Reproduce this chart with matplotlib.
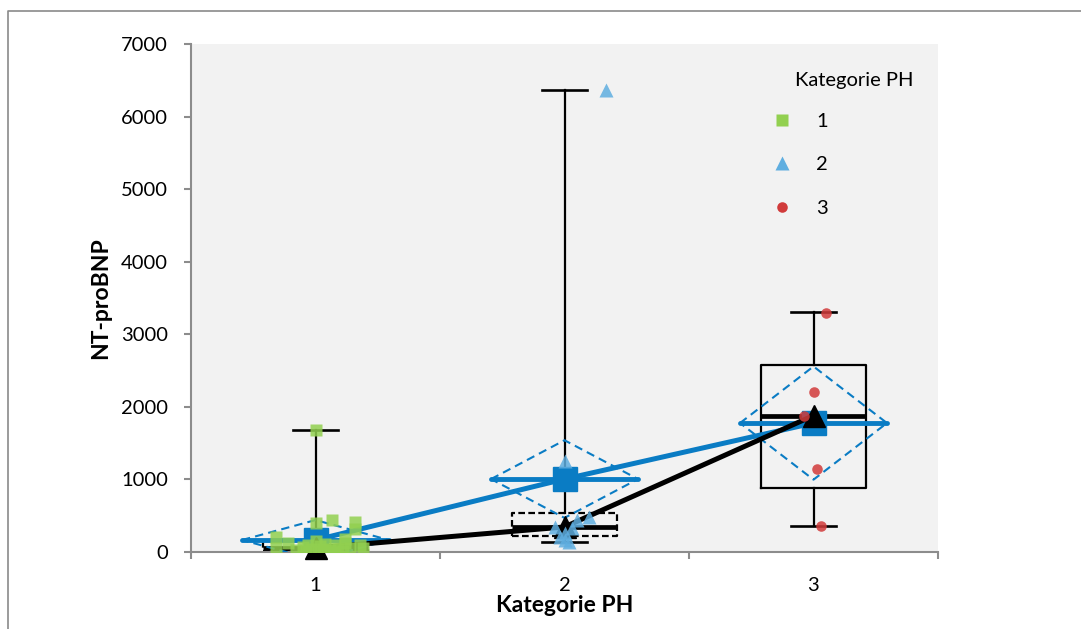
import matplotlib.pyplot as plt
from matplotlib.lines import Line2D

plt.rcParams.update({
    'font.family': ['Lato', 'DejaVu Sans'],
    'font.size': 14.5,
})

W, H = 1081, 629

# --- data: NT-proBNP per PH category ---
categories = [1, 2, 3]
labels = ['1', '2', '3']

vals_1 = [1680, 440, 420, 400, 320, 210, 180, 150, 130, 125, 110, 100, 95, 90,
          80, 70, 60, 55, 50, 45, 40, 35, 30, 25, 20, 15, 10, 5]
vals_2 = [6360, 1250, 480, 440, 350, 330, 260, 200, 160, 140]
vals_3 = [3300, 2200, 1880, 1140, 360]

# horizontal jitter of the points (category units)
jit_1 = [0.0, 0.065, 0.16, 0.004, 0.16, -0.16, 0.12, 0.0, -0.11, 0.12, 0.04, 0.18,
         -0.03, 0.08, 0.02, -0.05, 0.14, 0.19, -0.16, 0.03, 0.09, -0.02, 0.06,
         -0.08, 0.01, 0.11, -0.04, 0.07]
jit_2 = [0.165, 0.0, 0.1, 0.05, -0.04, 0.03, 0.0, -0.02, 0.0, 0.02]
jit_3 = [0.05, 0.0, -0.04, 0.015, 0.03]

# summary statistics
means = [165, 1005, 1777]
medians = [55, 345, 1880]
ci_half = [275, 535, 780]
q1 = [20, 220, 880]
q3 = [150, 537, 2576]
whis_lo = [5, 138, 358]
whis_hi = [1680, 6370, 3306]
box_dashed = [True, True, False]

BLUE = '#0A7CC4'
GRAY = '#8C8C8C'
pt_colors = ['#92D050', '#5FAEE0', '#D13B3B']
pt_markers = ['s', '^', 'o']
pt_sizes = [8.6, 9.4, 7.6]

fig = plt.figure(figsize=(W / 100, H / 100), dpi=100)
ax = fig.add_axes([191 / W, 1 - 552 / H, (938 - 191) / W, (552 - 44) / H])
ax.set_facecolor('#F2F2F2')
ax.set_xlim(0.5, 3.5)
ax.set_ylim(0, 7000)

# box plots
bw, cw = 0.21, 0.092
for c, a, b, lo, hi, md, dsh in zip(categories, q1, q3, whis_lo, whis_hi, medians, box_dashed):
    ls = (0, (3, 1.5)) if dsh else '-'
    ax.plot([c - bw, c + bw, c + bw, c - bw, c - bw], [a, a, b, b, a], color='black', lw=1.6, ls=ls, zorder=2)
    ax.plot([c, c], [b, hi], color='black', lw=1.6, zorder=2)
    ax.plot([c, c], [lo, a], color='black', lw=1.6, zorder=2)
    ax.plot([c - cw, c + cw], [hi, hi], color='black', lw=1.9, zorder=2)
    ax.plot([c - cw, c + cw], [lo, lo], color='black', lw=1.9, zorder=2)
    ax.plot([c - bw, c + bw], [md, md], color='black', lw=3.4, solid_capstyle='butt', zorder=2)

# mean diamonds
dw = 0.295
for c, m, h in zip(categories, means, ci_half):
    ax.plot([c - dw, c, c + dw, c, c - dw], [m, m + h, m, m - h, m], color=BLUE, lw=1.5,
            ls=(0, (4, 2.5)), zorder=3)
    ax.plot([c - dw, c + dw], [m, m], color=BLUE, lw=3.5, solid_capstyle='round', zorder=4)

# means and medians connected
ax.plot(categories, means, color=BLUE, lw=3.6, marker='s', ms=17, zorder=4)
ax.plot(categories, medians, color='black', lw=3.6, marker='^', ms=16, zorder=5, clip_on=False)

# individual observations
for c, v, j, col, mk, sz in zip(categories, [vals_1, vals_2, vals_3], [jit_1, jit_2, jit_3],
                                pt_colors, pt_markers, pt_sizes):
    ax.plot([c + d for d in j], v, ls='none', marker=mk, ms=sz, color=col, mec='none',
            alpha=0.85, zorder=6)

# axes styling
for s in ['top', 'right']:
    ax.spines[s].set_visible(False)
for s in ['left', 'bottom']:
    ax.spines[s].set_color(GRAY)
    ax.spines[s].set_linewidth(1.5)

ax.set_yticks(range(0, 7001, 1000))
ax.tick_params(axis='y', direction='out', length=5, width=1.5, color=GRAY, pad=11.5, labelsize=14.5)
ax.set_xticks([0.5, 1.5, 2.5, 3.5])
ax.set_xticklabels([])
ax.tick_params(axis='x', which='major', direction='out', length=5, width=1.5, color=GRAY)
ax.set_xticks(categories, minor=True)
ax.set_xticklabels(labels, minor=True)
ax.tick_params(axis='x', which='minor', length=0, pad=18, labelsize=14.5)

ax.set_xlabel('Kategorie PH', fontsize=16.5, fontweight='bold', labelpad=1)
ax.set_ylabel('NT-proBNP', fontsize=16.5, fontweight='bold', labelpad=7)

# legend
handles = [Line2D([], [], ls='none', marker=m, ms=s, color=c, mec='none')
           for m, s, c in zip(pt_markers, [8, 9.4, 7.6], pt_colors)]
ax.legend(handles, labels, loc='upper left', bbox_to_anchor=(772 / W, 1 - 113 / H),
          bbox_transform=fig.transFigure, frameon=False, handlelength=1.0,
          handletextpad=1.2, labelspacing=1.3, borderpad=0, borderaxespad=0, fontsize=14.5)
fig.text(795 / W, 1 - 86 / H, 'Kategorie PH', fontsize=14.5, va='baseline')

# outer frame
fig.add_artist(Line2D([8 / W, 8 / W, 1.0], [0, 1 - 11 / H, 1 - 11 / H],
                      transform=fig.transFigure, color='#8A8A8A', lw=1.2))

fig.savefig('out.png', dpi=100)
